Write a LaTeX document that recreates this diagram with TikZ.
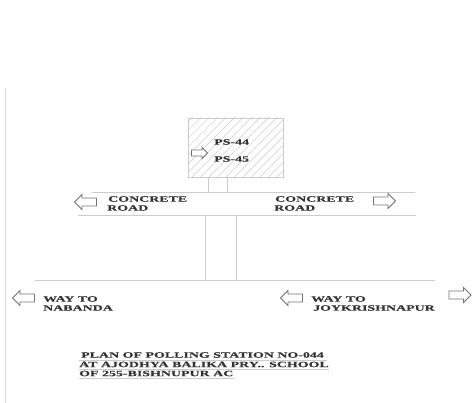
\documentclass[tikz,border=0pt]{standalone}
\usepackage{fontspec}
\usetikzlibrary{patterns.meta,shapes.arrows}
\newfontfamily\planfont[FakeStretch=1.7,FakeBold=.6]{Liberation Serif}
\definecolor{planline}{gray}{0.8}
\definecolor{plantext}{gray}{0.2}
\tikzset{
    planlabel/.style={anchor=west,inner sep=0pt,text=plantext,font=\planfont\bfseries\fontsize{8.2}{9}\selectfont},
    wayarrow/.style={single arrow,draw=black!55,fill=white,line width=.9pt,inner sep=3.5pt,minimum height=22pt,minimum width=15pt,single arrow head extend=3.5pt,single arrow tip angle=90},
    leftarrow/.style={wayarrow,shape border rotate=180},
    rightarrow/.style={wayarrow},
    roadline/.style={draw=planline,line width=.7pt}
}
\begin{document}
\begin{tikzpicture}[x=1pt,y=-1pt]
    \useasboundingbox (0,0) rectangle (476,403);
    \draw[draw=violet!18,line width=.8pt] (5,88) -- (5,403);
    % polling station
    \node[draw=planline,pattern={Lines[angle=45,distance=6pt,line width=.5pt]},pattern color=black!20,minimum width=95pt,minimum height=59pt,inner sep=0pt] (station) at (235.5,147.5) {};
    \node[planlabel,fill=white] (ps44) at (214,142) {PS-44};
    \node[planlabel,fill=white] (ps45) at (214,159) {PS-45};
    \node[rightarrow,inner sep=2.5pt,minimum height=16pt,minimum width=11pt,single arrow head extend=2.5pt] (entry) at (198,153) {};
    % roads
    \coordinate (roadNW) at (92,192);
    \coordinate (roadNE) at (415,192);
    \coordinate (roadSW) at (78,215);
    \coordinate (roadSE) at (416,215);
    \coordinate (wayW) at (35,280);
    \coordinate (wayE) at (435,280);
    \coordinate (pathA) at (208,192);
    \coordinate (pathB) at (227,192);
    \coordinate (laneA) at (205,215);
    \coordinate (laneB) at (236,215);
    \coordinate (laneC) at (205,280);
    \coordinate (laneD) at (236,280);
    \draw[roadline] (roadNW) -- (roadNE);
    \draw[roadline] (roadSW) -- (roadSE);
    \draw[roadline] (wayW) -- (wayE);
    \draw[roadline] (station.south -| pathA) -- (pathA);
    \draw[roadline] (station.south -| pathB) -- (pathB);
    \draw[roadline] (laneA) -- (laneC);
    \draw[roadline] (laneB) -- (laneD);
    % road arrows
    \node[leftarrow] (roadleft) at (87.5,202) {};
    \node[rightarrow] (roadright) at (382.5,201) {};
    \node[leftarrow] (wayleft) at (25.5,298) {};
    \node[leftarrow] (waymid) at (293.5,298) {};
    \node[rightarrow] (wayright) at (458,295) {};
    % labels
    \node[planlabel] (concreteA) at (108,199) {CONCRETE};
    \node[planlabel] (roadA) at (107,208) {ROAD};
    \node[planlabel] (concreteB) at (275,199) {CONCRETE};
    \node[planlabel] (roadB) at (274,208) {ROAD};
    \node[planlabel] (wayA) at (43,299) {WAY TO};
    \node[planlabel] (nabanda) at (43,308) {NABANDA};
    \node[planlabel] (wayB) at (311,299) {WAY TO};
    \node[planlabel] (joykrishnapur) at (313,308) {JOYKRISHNAPUR};
    % title
    \node[planlabel] (titleA) at (81,355) {PLAN OF POLLING STATION NO-044};
    \node[planlabel] (titleB) at (79,364.5) {AT AJODHYA BALIKA PRY.. SCHOOL};
    \node[planlabel] (titleC) at (79,373.5) {OF 255-BISHNUPUR AC};
    \draw[roadline] (79,360) -- (327,360);
    \draw[roadline] ([yshift=-1.5pt]titleB.south west) -- ([yshift=-1.5pt]titleB.south east);
    \draw[roadline] ([yshift=-1.5pt]titleC.south west) -- ([yshift=-1.5pt]titleC.south east);
\end{tikzpicture}
\end{document}
